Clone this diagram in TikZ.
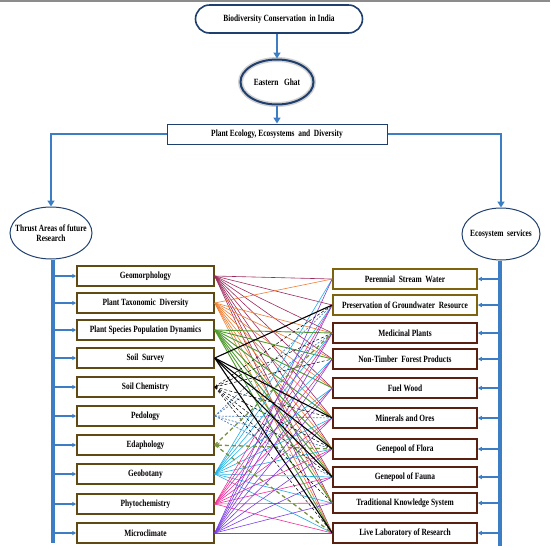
\documentclass[tikz,border=0pt]{standalone}
\usepackage{fontspec}
\setmainfont{Liberation Serif}[FakeStretch=0.78]
\usetikzlibrary{arrows.meta,shapes.geometric,positioning}

\definecolor{EgFlowBlue}{HTML}{3C7DC4}
\definecolor{EgNavy}{HTML}{1F3F6E}
\definecolor{EgBoxOlive}{HTML}{5E4A12}
\definecolor{EgBoxGold}{HTML}{7F6410}
\definecolor{EgBoxBrown}{HTML}{5A2010}
\definecolor{EgLinkGeo}{HTML}{9C2A5E}
\definecolor{EgLinkTax}{HTML}{F07D32}
\definecolor{EgLinkPop}{HTML}{4E9A2C}
\definecolor{EgLinkPed}{HTML}{4F81BD}
\definecolor{EgLinkEda}{HTML}{77933C}
\definecolor{EgLinkBot}{HTML}{1EB0E6}
\definecolor{EgLinkPhy}{HTML}{F0309A}
\definecolor{EgLinkMic}{HTML}{7B3FE4}

\newcommand{\egfont}{\fontsize{9.5}{10.5}\selectfont\bfseries}

\tikzset{
  flowarrow/.style={EgFlowBlue,line width=2.6pt,-{Triangle[width=7pt,length=6pt]}},
  feedarrow/.style={EgFlowBlue,line width=1.1pt,-{Triangle[width=4pt,length=4pt]}},
  sidebar/.style={EgFlowBlue,line width=4.5pt},
  sideoval/.style={ellipse,draw=EgNavy,line width=1pt,minimum width=82pt,minimum height=52pt,inner sep=0pt},
  areabox/.style={draw=EgBoxOlive,line width=1.5pt,minimum width=137pt,minimum height=20pt,inner sep=0pt,font=\egfont},
  servicebox/.style={line width=1.5pt,minimum width=144pt,minimum height=20pt,inner sep=0pt,font=\egfont},
  link/.style={line width=0.6pt},
  geolink/.style={link,EgLinkGeo},
  taxlink/.style={link,EgLinkTax},
  poplink/.style={link,EgLinkPop,line width=0.9pt},
  surveylink/.style={black,line width=1.1pt},
  chemlink/.style={black,line width=0.5pt,densely dashed},
  pedolink/.style={EgLinkPed,line width=0.7pt,dash pattern=on 2pt off 1.5pt},
  edalink/.style={EgLinkEda,line width=1.3pt,dash pattern=on 4pt off 3pt},
  botlink/.style={link,EgLinkBot},
  phylink/.style={link,EgLinkPhy},
  miclink/.style={link,EgLinkMic}
}

\begin{document}
\begin{tikzpicture}[x=1pt,y=-1pt]
    \useasboundingbox (0,0) rectangle (550,550);
    \draw[black!45,line width=1.5pt] (0,1) -- (550,1);

    % top of the chain
    \node[draw=EgNavy,line width=1.6pt,rounded corners=14pt,minimum width=167pt,minimum height=28pt,font=\egfont]
      (biodiv) at (279,19) {Biodiversity Conservation\ \ in India};
    \node[ellipse,draw=EgNavy,line width=2pt,minimum width=73pt,minimum height=45pt,inner sep=0pt,font=\egfont,
      preaction={draw=black!18,line width=5pt}]
      (ghat) at (277,82) {Eastern\ \ \ Ghat};
    \node[draw=EgNavy,line width=1pt,minimum width=220pt,minimum height=20pt,font=\egfont]
      (plant) at (277,134) {Plant Ecology, Ecosystems\ \ and\ \ Diversity};
    \node[sideoval,label={[font=\egfont,align=center]center:Thrust Areas of future\\Research}]
      (thrust) at (51,233) {};
    \node[sideoval,minimum width=78pt,label={[font=\egfont]center:Ecosystem\ \ services}]
      (ecosys) at (501,234) {};

    \draw[flowarrow] (ghat.north |- biodiv.south) -- (ghat.north);
    \draw[flowarrow] (ghat.south) -- (plant.north);
    \draw[flowarrow] (plant.west) -| (thrust.north);
    \draw[flowarrow] (plant.east) -| (ecosys.north);

    \coordinate (thrustend) at (53,543);
    \coordinate (ecosysend) at (500,546);
    \draw[sidebar] (thrust.south -| thrustend) -- (thrustend);
    \draw[sidebar] (ecosys.south -| ecosysend) -- (ecosysend);

    % thrust areas
    \foreach \name/\y/\label in {geo/276/Geomorphology,taxo/303/Plant Taxonomic\ \ Diversity,
      popdyn/330/Plant Species Population Dynamics,survey/358/Soil\ \ Survey,soilchem/387/Soil Chemistry,
      pedo/416/Pedology,edapho/445/Edaphology,geobot/474/Geobotany,phyto/504/Phytochemistry,microcl/533/Microclimate}{
      \node[areabox] (\name) at (145.5,\y) {\label};
      \draw[feedarrow] (thrustend |- \name.west) -- (\name.west);
    }

    % ecosystem services
    \foreach \name/\y/\edge/\label in {stream/279/EgBoxGold/Perennial\ \ Stream\ \ Water,
      ground/305/EgBoxGold/Preservation of Groundwater\ \ Resource,
      medicinal/333/EgBoxBrown/Medicinal Plants,ntfp/359/EgBoxBrown/Non-Timber\ \ Forest Products,
      fuel/388/EgBoxBrown/Fuel Wood,minerals/418/EgBoxBrown/Minerals and Ores,
      flora/449/EgBoxBrown/Genepool of Flora,fauna/477/EgBoxBrown/Genepool of Fauna,
      tks/503/EgBoxBrown/Traditional Knowledge System,livelab/533/EgBoxBrown/Live Laboratory of Research}{
      \node[servicebox,draw=\edge] (\name) at (405,\y) {\label};
      \draw[feedarrow] (ecosysend |- \name.east) -- (\name.east);
    }

    % links between the two columns
    \foreach \dst in {stream,ground,medicinal,ntfp,fuel,minerals,flora,fauna,tks,livelab}
      \draw[geolink] (geo.east) -- (\dst.west);
    \foreach \dst in {stream,medicinal,ntfp,fuel,minerals,flora,fauna,tks,livelab}
      \draw[taxlink] (taxo.east) -- (\dst.west);
    \foreach \dst in {medicinal,ntfp,fuel,minerals,flora,fauna,tks,livelab}
      \draw[poplink] (popdyn.east) -- (\dst.west);
    \foreach \dst in {stream,ground,medicinal,ntfp,fuel,minerals,flora,fauna,tks,livelab}
      \draw[botlink] (geobot.east) -- (\dst.west);
    \foreach \dst in {ground,medicinal,ntfp,fuel,minerals,flora,fauna,tks,livelab}
      \draw[phylink] (phyto.east) -- (\dst.west);
    \foreach \dst in {stream,ground,medicinal,ntfp,fuel,minerals,flora,fauna,tks,livelab}
      \draw[miclink] (microcl.east) -- (\dst.west);
    \foreach \dst in {ground,medicinal,minerals,flora,fauna}
      \draw[pedolink] (pedo.east) -- (\dst.west);
    \foreach \dst in {ground,ntfp,minerals,flora,fauna,tks,livelab}
      \draw[chemlink] (soilchem.east) -- (\dst.west);
    \draw[chemlink,{Stealth[length=3pt,width=3pt]}-] (soilchem.east) -- (medicinal.west);
    \foreach \dst in {medicinal,livelab}
      \draw[edalink] (edapho.east) -- (\dst.west);
    \draw[edalink,{Stealth[length=5pt,width=5pt]}-] (edapho.east) -- (flora.west);
    \foreach \dst in {ground,minerals,flora,fauna,livelab}
      \draw[surveylink] (survey.east) -- (\dst.west);
  \end{tikzpicture}
\end{document}
